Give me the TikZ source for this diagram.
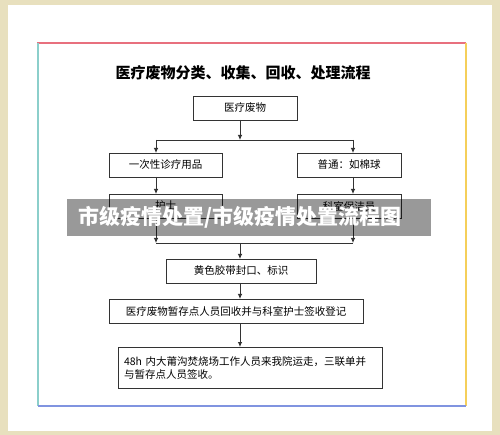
\documentclass[tikz,border=0pt]{standalone}
\usepackage{fontspec}
\setmainfont{Noto Sans CJK SC}
\usetikzlibrary{arrows.meta}
\definecolor{bgbeige}{HTML}{E8E0BE}
\definecolor{frpink}{HTML}{E8707E}
\definecolor{frteal}{HTML}{8CCFCB}
\definecolor{fryellow}{HTML}{F5CF5A}
\definecolor{frblue}{HTML}{8094E0}
\definecolor{ln}{HTML}{333333}
\begin{document}
\begin{tikzpicture}[x=1pt,y=-1pt,
  box/.style={draw=ln, line width=0.8pt, inner sep=0pt, font=\fontsize{10.5}{13}\selectfont},
  arr/.style={-{Latex[length=5pt,width=4.5pt]}, line width=0.8pt, draw=ln},
  ln/.style={line width=0.8pt, draw=ln}]
\useasboundingbox (0,0) rectangle (500,435);
\fill[bgbeige] (0,0) rectangle (500,435);
\fill[white] (8,5) rectangle (492,431);
% frame
\draw[frpink, line width=2pt] (37,43) -- (466,43);
\draw[frteal, line width=2pt] (38,43) -- (38,406);
\draw[fryellow, line width=2pt] (465.5,43) -- (465.5,406);
\draw[frblue, line width=2pt] (38,406) -- (466,406);
% title
\node[font=\bfseries\fontsize{15}{17}\selectfont] (title) at (243,73) {医疗废物分类、收集、回收、处理流程};
% boxes
\node[box, minimum width=104, minimum height=24] (a) at (245,108) {医疗废物};
\node[box, minimum width=113, minimum height=24] (b1) at (165.5,165) {一次性诊疗用品};
\node[box, minimum width=104, minimum height=24] (b2) at (349,165) {普通：如棉球};
\node[box, minimum width=113, minimum height=24] (c1) at (165.5,206) {护士};
\node[box, minimum width=104, minimum height=24] (c2) at (349,206) {科室保洁员};
\node[box, minimum width=150, minimum height=24] (d) at (241,271) {黄色胶带封口、标识};
\node[box, minimum width=254, minimum height=24] (e) at (236,311) {医疗废物暂存点人员回收并与科室护士签收登记};
\node[box, minimum width=264, minimum height=41, align=left, text width=252] (f) at (250,367.5)
  {48h 内大莆沟焚烧场工作人员来我院运走，三联单并\\与暂存点人员签收。};
% connector points
\coordinate (a1) at (240,120);
\coordinate (s) at (240,140);
\coordinate (sl) at (156,140);
\coordinate (sr) at (353,140);
\coordinate (b1t) at (156,153);
\coordinate (b2t) at (353,153);
\coordinate (b1b) at (156,177);
\coordinate (b2b) at (353,177);
\coordinate (c1t) at (156,194);
\coordinate (c2t) at (353,194);
\coordinate (c1b) at (156,218);
\coordinate (c2b) at (353,218);
\coordinate (ml) at (156,243);
\coordinate (mr) at (353,243);
\coordinate (m) at (240,243);
\coordinate (dt) at (240,259);
\coordinate (db) at (240,283);
\coordinate (et) at (240,299);
\coordinate (eb) at (240,323);
\coordinate (ft) at (240,347);
\draw[arr] (a1) -- (s);
\draw[ln] (sl) -- (sr);
\draw[arr] (sl) -- (b1t);
\draw[arr] (sr) -- (b2t);
\draw[arr] (b1b) -- (c1t);
\draw[arr] (b2b) -- (c2t);
\draw[arr] (c1b) -- (ml);
\draw[arr] (c2b) -- (mr);
\draw[ln] (ml) -- (mr);
\draw[arr] (m) -- (dt);
\draw[arr] (db) -- (et);
\draw[arr] (eb) -- (ft);
% watermark band
\fill[black, opacity=0.4] (67,199) rectangle (431,236);
\node[white, font=\bfseries\fontsize{21}{23}\selectfont] (wm) at (240,217.5) {市级疫情处置/市级疫情处置流程图};
\end{tikzpicture}
\end{document}
